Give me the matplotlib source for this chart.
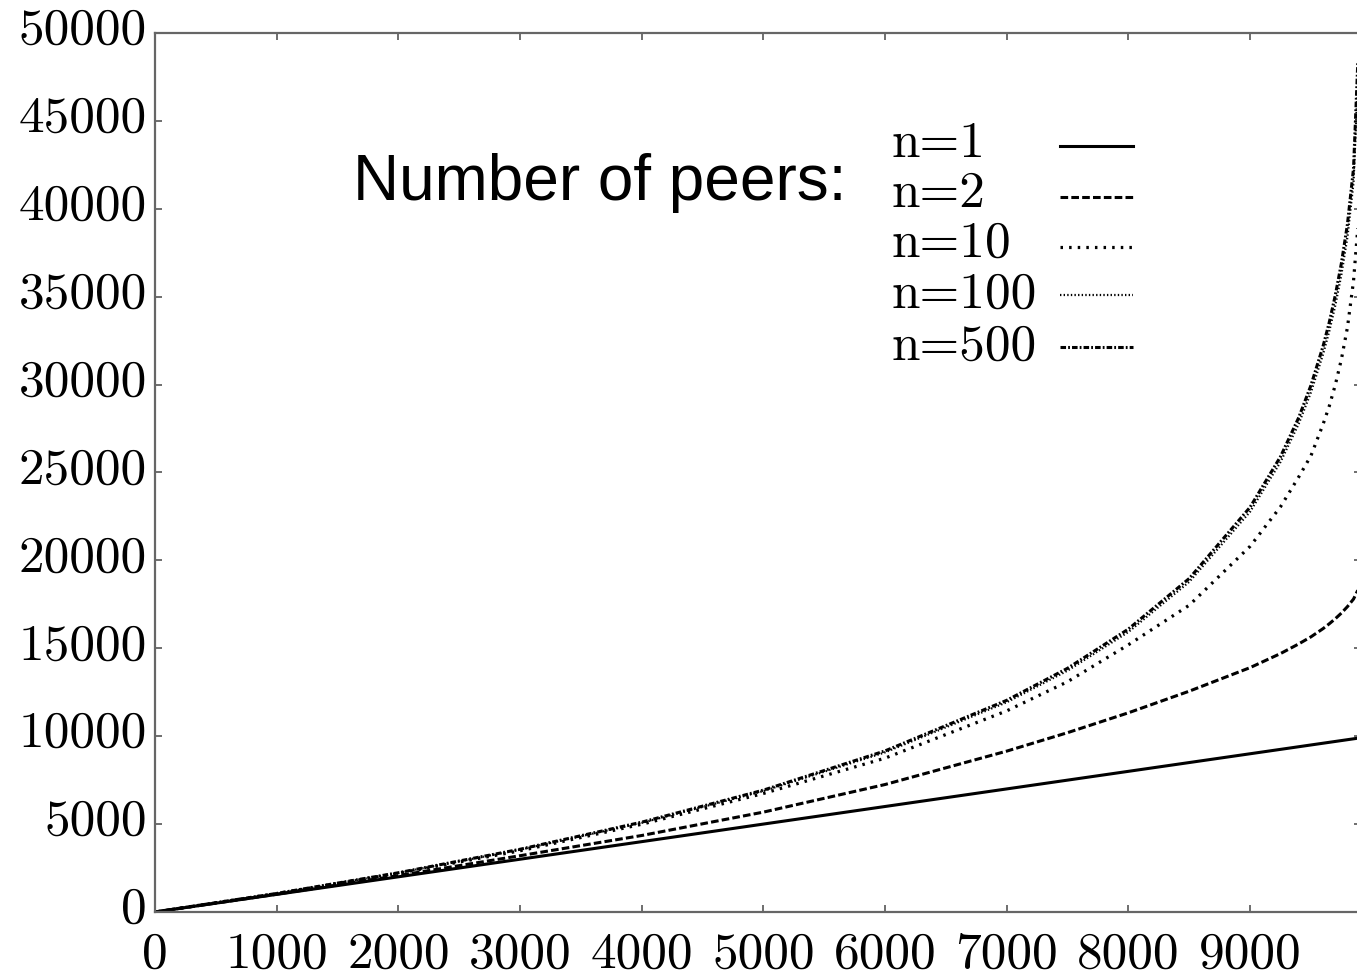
import matplotlib
matplotlib.use("Agg")
import matplotlib.pyplot as plt
import matplotlib.transforms as mtransforms

plt.rcParams['lines.scale_dashes'] = False

# values
x_vals = [0, 1000, 2000, 3000, 4000, 5000, 6000, 7000, 7500, 8000, 8500,
          9000, 9250, 9400, 9500, 9600, 9650, 9700, 9750, 9800, 9850, 9885]
n1 = [0, 1000, 2000, 3000, 4000, 5000, 6000, 7000, 7500, 8000, 8500,
      9000, 9250, 9400, 9500, 9600, 9650, 9700, 9750, 9800, 9850, 9885]
n2 = [0, 1010, 2070, 3200, 4350, 5680, 7250, 9150, 10200, 11330, 12560,
      13900, 14700, 15250, 15650, 16120, 16390, 16680, 17000, 17370, 17800, 18300]
n10 = [0, 1045, 2200, 3480, 4990, 6740, 8750, 11440, 13100, 15200, 17450,
       20800, 23050, 24750, 25950, 27750, 28760, 29980, 31430, 33250, 35900, 38900]
n100 = [0, 1050, 2220, 3545, 5070, 6880, 9080, 11930, 13730, 15930, 18780,
        22770, 25600, 27780, 29560, 31740, 33020, 34500, 36250, 38400, 41500, 47200]
n500 = [0, 1054, 2231, 3567, 5108, 6931, 9163, 12040, 13863, 16094, 18971,
        23026, 25903, 28130, 29957, 32190, 33524, 35070, 36889, 39120, 42300, 48300]

labels = ['n=1', 'n=2', 'n=10', 'n=100', 'n=500']
xticks = [0, 1000, 2000, 3000, 4000, 5000, 6000, 7000, 8000, 9000]
yticks = [0, 5000, 10000, 15000, 20000, 25000, 30000, 35000, 40000, 45000, 50000]

styles = [
    dict(linestyle='-', lw=2.2),
    dict(dashes=(5.5, 2.3), lw=2.2),
    dict(dashes=(1.8, 4.4), lw=2.3),
    dict(dashes=(1.0, 1.6), lw=1.6),
    dict(dashes=(4.0, 1.5, 1.3, 1.5), lw=2.2),
]

fig = plt.figure(figsize=(13.57, 9.76), dpi=100)
ax = fig.add_axes([0.1142, 0.0656, 0.8888, 0.9006])

series = [n1, n2, n10, n100, n500]
for ys, st in zip(series, styles):
    ax.plot(x_vals, ys, color='black', **st)

ax.set_xlim(0, 9912)
ax.set_ylim(0, 50000)
ax.set_xticks(xticks)
ax.set_yticks(yticks)
ax.set_xticklabels([str(t) for t in xticks], fontfamily='cmr10', fontsize=37)
ax.set_yticklabels([str(t) for t in yticks], fontfamily='cmr10', fontsize=37)
ax.tick_params(direction='in', length=5, width=1.2, color='#555555',
               top=True, right=True)
ax.tick_params(axis='x', pad=14)
ax.tick_params(axis='y', pad=6)
for sp in ax.spines.values():
    sp.set_color('#666666')
    sp.set_linewidth(1.6)

# y labels sit a little above their ticks in the reference
up = mtransforms.ScaledTranslation(0, 7 / 100, fig.dpi_scale_trans)
for lab in ax.get_yticklabels():
    lab.set_transform(lab.get_transform() + up)

# key, gnuplot style: text left, sample right
ax.text(0.573, 0.810, 'Number of peers:', transform=ax.transAxes,
        ha='right', va='baseline', fontfamily='Liberation Sans', fontsize=46)
text_y = [0.859, 0.802, 0.745, 0.687, 0.628]
line_y = [0.871, 0.813, 0.757, 0.702, 0.643]
for lab, ty, ly, st in zip(labels, text_y, line_y, styles):
    ax.text(0.611, ty, lab, transform=ax.transAxes, ha='left', va='baseline',
            fontfamily='cmr10', fontsize=37)
    ax.plot([0.7505, 0.8105], [ly, ly], transform=ax.transAxes,
            color='black', **st)

fig.savefig('out.png', dpi=100)
